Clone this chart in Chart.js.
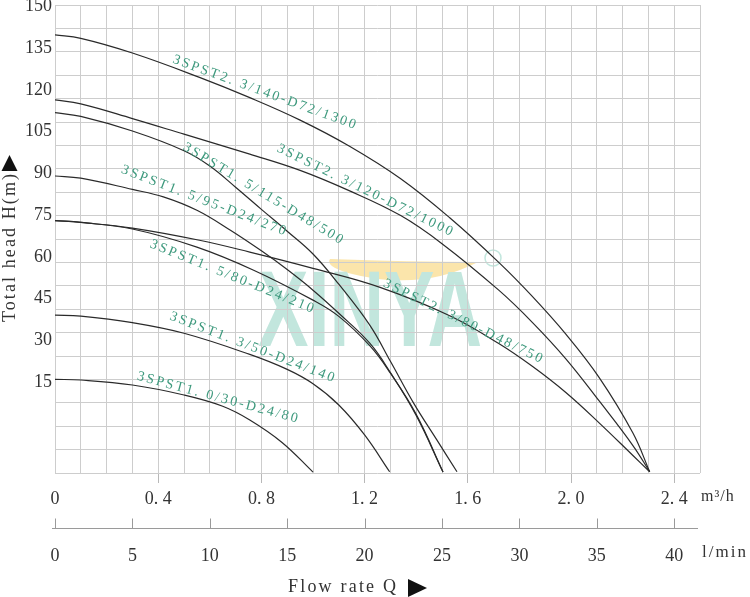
<!DOCTYPE html>
<html>
<head>
<meta charset="utf-8">
<script src="https://cdn.jsdelivr.net/npm/chart.js@4.4.1/dist/chart.umd.min.js"></script>
<style>
    html, body { margin: 0; padding: 0; background: #fff; }
</style>
</head>
<body>
<canvas id="pumpChart" width="750" height="597"></canvas>
<script>
// flow Q in m3/h, head H in m
const q_23_140 = [0, 0.1, 0.3, 0.56, 0.755, 0.95, 1.14, 1.34, 1.53, 1.72, 1.85, 1.98, 2.11, 2.24, 2.305];
const h_23_140 = [140.4, 139.3, 134.6, 126.8, 120.3, 113.1, 104.8, 94.3, 81.8, 67.5, 56.6, 44.5, 30.5, 12.8, 0.4];

const q_23_120 = [0, 0.1, 0.3, 0.5, 0.755, 0.95, 1.14, 1.34, 1.5, 1.72, 1.85, 1.98, 2.11, 2.24, 2.305];
const h_23_120 = [119.6, 118.3, 113.6, 108.6, 102.2, 97, 90.5, 82.5, 73.5, 58.6, 48.3, 36.6, 23, 8.8, 0.4];

const q_23_80 = [0, 0.1, 0.3, 0.56, 0.755, 1.0, 1.26, 1.53, 1.72, 1.85, 1.98, 2.11, 2.24, 2.305];
const h_23_80 = [80.9, 80.3, 78.5, 74.6, 70.8, 65.6, 59.5, 50.4, 41.5, 34.2, 25.8, 16, 5.6, 0.4];

const q_15_115 = [0, 0.1, 0.3, 0.5, 0.6, 0.7, 0.8, 0.9, 1.0, 1.1, 1.22, 1.3, 1.39, 1.48, 1.558];
const h_15_115 = [115.5, 114.3, 109.6, 103.3, 98.4, 91.6, 84.5, 77.5, 70.2, 60.5, 47.4, 35.8, 22.4, 10.6, 0.4];

const q_15_95 = [0, 0.1, 0.3, 0.42, 0.55, 0.68, 0.8, 0.9, 1.0, 1.1, 1.22, 1.3, 1.4, 1.504];
const h_15_95 = [95.2, 94.5, 90.9, 88.5, 84.2, 77.8, 71.2, 65.2, 58.6, 51.2, 41.6, 32.2, 18.4, 0.3];

const q_15_80 = [0, 0.1, 0.3, 0.55, 0.77, 1.0, 1.1, 1.22, 1.3, 1.4, 1.504];
const h_15_80 = [80.9, 80.3, 78.2, 72.4, 65, 55.4, 50.2, 40.8, 32, 18.8, 0.3];

const q_13_50 = [0, 0.1, 0.3, 0.5, 0.755, 0.9, 1.0, 1.1, 1.2, 1.297];
const h_13_50 = [50.6, 50.3, 48.2, 44.8, 38, 33.2, 28.6, 21.8, 12.2, 0.4];

const q_10_30 = [0, 0.1, 0.3, 0.5, 0.65, 0.755, 0.88, 1.0];
const h_10_30 = [30, 29.8, 28.2, 25, 21.4, 17, 9.8, 0.3];

const modelNames = [
    "3SPST2.3/140-D72/1300", "3SPST2.3/120-D72/1000", "3SPST2.3/80-D48/750",
    "3SPST1.5/115-D48/500", "3SPST1.5/95-D24/270", "3SPST1.5/80-D24/210",
    "3SPST1.3/50-D24/140", "3SPST1.0/30-D24/80"
];

const headTickLabels = [15, 30, 45, 60, 75, 90, 105, 120, 135, 150];
const flowTickLabels = [0, 0.4, 0.8, 1.2, 1.6, 2.0, 2.4];
const lminTickLabels = [0, 5, 10, 15, 20, 25, 30, 35, 40];

const serif = '"Liberation Serif", "DejaVu Serif", serif';
const textGrey = "#333";
const labelGreen = "#3f9a7e";

const curves = [
    [q_23_140, h_23_140], [q_23_120, h_23_120], [q_23_80, h_23_80],
    [q_15_115, h_15_115], [q_15_95, h_15_95], [q_15_80, h_15_80],
    [q_13_50, h_13_50], [q_10_30, h_10_30]
];

// where each model name sits along its curve (Q, H, angle in degrees)
const namePlaces = [
    [0.815, 121.9, 20], [1.205, 90.5, 26], [1.585, 48.5, 26],
    [0.81, 89.4, 31], [0.58, 87.2, 21], [0.69, 62.9, 22],
    [0.768, 40.2, 21], [0.634, 24.1, 15]
];

const datasets = curves.map((c, i) => ({
    label: modelNames[i],
    data: c[0].map((q, j) => ({x: q, y: c[1][j]})),
    borderColor: "#2a2a2a",
    borderWidth: 1.2,
    pointRadius: 0,
    fill: false,
    tension: 0.4,
    xAxisID: "x",
    yAxisID: "y"
}));

function isMajor(v) {
    return Math.abs(v / 0.4 - Math.round(v / 0.4)) < 1e-6;
}

function spacedText(ctx, text, x, y, spacing) {
    ctx.letterSpacing = spacing + "px";
    ctx.fillText(text, x, y);
    ctx.letterSpacing = "0px";
}

// pale company logo behind the grid
const watermark = {
    id: "watermark",
    beforeDraw(chart) {
        const ctx = chart.ctx;
        ctx.save();
        ctx.fillStyle = "#fff";
        ctx.fillRect(0, 0, chart.width, chart.height);

        ctx.fillStyle = "rgba(250, 222, 150, 0.8)";
        ctx.beginPath();
        ctx.moveTo(330, 259);
        ctx.quadraticCurveTo(410, 262, 478, 262);
        ctx.quadraticCurveTo(420, 292, 348, 273);
        ctx.quadraticCurveTo(325, 266, 330, 259);
        ctx.closePath();
        ctx.fill();

        ctx.fillStyle = "#c2e6dd";
        ctx.font = "bold 108px 'Liberation Sans', sans-serif";
        ctx.textBaseline = "alphabetic";
        ctx.save();
        ctx.translate(258, 346);
        ctx.scale(0.7, 1);
        ctx.fillText("XINYA", 0, 0);
        ctx.restore();

        ctx.strokeStyle = "#c2e6dd";
        ctx.lineWidth = 1.5;
        ctx.beginPath();
        ctx.arc(493, 258, 8, 0, Math.PI * 2);
        ctx.stroke();
        ctx.restore();
    }
};

const annotations = {
    id: "annotations",
    afterDatasetsDraw(chart) {
        const ctx = chart.ctx;
        const xs = chart.scales.x;
        const ys = chart.scales.y;
        const x2 = chart.scales.x2;
        const area = chart.chartArea;

        // model names along the curves
        ctx.save();
        ctx.fillStyle = labelGreen;
        ctx.font = "14px " + serif;
        ctx.textAlign = "center";
        ctx.textBaseline = "middle";
        namePlaces.forEach((p, i) => {
            ctx.save();
            ctx.translate(xs.getPixelForValue(p[0]), ys.getPixelForValue(p[1]));
            ctx.rotate(p[2] * Math.PI / 180);
            spacedText(ctx, modelNames[i].replace(".", ". "), 0, 0, 2.3);
            ctx.restore();
        });
        ctx.restore();

        // second flow axis in l/min
        ctx.save();
        ctx.strokeStyle = "#9a9a9a";
        ctx.lineWidth = 1;
        const lineY = x2.top + 15.5;
        ctx.beginPath();
        ctx.moveTo(area.left - 3, lineY);
        ctx.lineTo(area.right - 2, lineY);
        lminTickLabels.forEach(v => {
            const px = Math.round(x2.getPixelForValue(v)) + 0.5;
            ctx.moveTo(px, lineY);
            ctx.lineTo(px, lineY - 10);
        });
        ctx.stroke();
        ctx.restore();

        // units and axis titles
        ctx.save();
        ctx.fillStyle = textGrey;
        ctx.textBaseline = "middle";
        ctx.textAlign = "left";
        ctx.font = "16px " + serif;
        spacedText(ctx, "m³/h", 701, 497, 1);
        ctx.font = "17px " + serif;
        spacedText(ctx, "l/min", 702, 553, 2);
        ctx.font = "18px " + serif;
        spacedText(ctx, "Flow rate Q", 288, 587, 2.2);

        ctx.fillStyle = "#111";
        ctx.beginPath();
        ctx.moveTo(408, 579);
        ctx.lineTo(427, 588);
        ctx.lineTo(408, 597);
        ctx.closePath();
        ctx.fill();

        ctx.save();
        ctx.translate(10, 247);
        ctx.rotate(-Math.PI / 2);
        ctx.textAlign = "center";
        ctx.fillStyle = textGrey;
        spacedText(ctx, "Total head H(m)", 0, 0, 2.1);
        ctx.restore();

        ctx.fillStyle = "#111";
        ctx.beginPath();
        ctx.moveTo(9.5, 155);
        ctx.lineTo(17.5, 171);
        ctx.lineTo(1.5, 171);
        ctx.closePath();
        ctx.fill();
        ctx.restore();
    }
};

new Chart(document.getElementById("pumpChart"), {
    type: "line",
    data: {datasets: datasets},
    options: {
        responsive: false,
        animation: false,
        layout: {padding: {top: 5, right: 50, left: 0, bottom: 0}},
        plugins: {legend: {display: false}, tooltip: {enabled: false}},
        scales: {
            x: {
                type: "linear",
                position: "bottom",
                min: 0,
                max: 2.5,
                grid: {
                    color: "#cdcdcd",
                    lineWidth: 1,
                    tickLength: 10,
                    tickColor: ctx => (ctx.tick && ctx.tick.value > 0 && isMajor(ctx.tick.value)) ? "#b8b8b8" : "rgba(0,0,0,0)"
                },
                border: {display: false},
                ticks: {
                    stepSize: 0.1,
                    autoSkip: false,
                    maxRotation: 0,
                    padding: 5,
                    color: textGrey,
                    font: {family: serif, size: 18},
                    callback: v => {
                        if (!isMajor(v)) return "";
                        const hit = flowTickLabels.find(t => Math.abs(t - v) < 1e-6);
                        return hit === 0 ? "0" : hit.toFixed(1).replace(".", ". ");
                    }
                },
                afterFit: s => { s.height = 40; s.paddingLeft = 0; s.paddingRight = 0; }
            },
            x2: {
                type: "linear",
                position: "bottom",
                min: 0,
                max: 2.5 * 1000 / 60,
                grid: {drawOnChartArea: false, drawTicks: false},
                border: {display: false},
                afterBuildTicks: s => { s.ticks = lminTickLabels.map(v => ({value: v})); },
                ticks: {
                    autoSkip: false,
                    maxRotation: 0,
                    padding: 32,
                    color: textGrey,
                    font: {family: serif, size: 18}
                },
                afterFit: s => { s.height = 84; s.paddingLeft = 0; s.paddingRight = 0; }
            },
            y: {
                position: "left",
                min: 0,
                max: 150,
                grid: {color: "#cdcdcd", lineWidth: 1, drawTicks: false},
                border: {display: false},
                ticks: {display: false, stepSize: 7.5},
                afterFit: s => { s.width = 0; s.paddingTop = 0; s.paddingBottom = 0; }
            },
            yl: {
                position: "left",
                min: -17.8,
                max: 150.6,
                grid: {display: false, drawTicks: false},
                border: {display: false},
                afterBuildTicks: s => { s.ticks = headTickLabels.map(v => ({value: v})); },
                ticks: {
                    padding: 3,
                    color: textGrey,
                    font: {family: serif, size: 18}
                },
                afterFit: s => { s.width = 55; s.paddingTop = 0; s.paddingBottom = 0; }
            }
        }
    },
    plugins: [watermark, annotations]
});
</script>
</body>
</html>
